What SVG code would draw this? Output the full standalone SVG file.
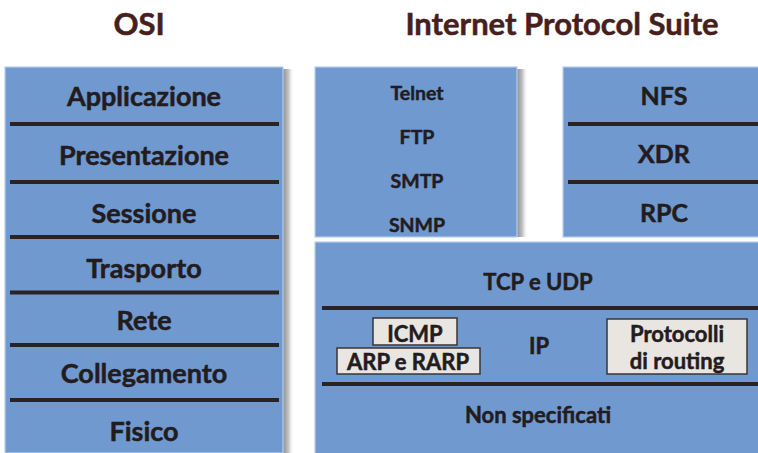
<svg xmlns="http://www.w3.org/2000/svg" width="758" height="453" viewBox="0 0 758 453">
  <defs>
    <linearGradient id="shade" x1="0" y1="0" x2="1" y2="0">
      <stop offset="0" stop-color="#8f8f8f"/>
      <stop offset="0.5" stop-color="#c4c4c4"/>
      <stop offset="1" stop-color="#ffffff" stop-opacity="0"/>
    </linearGradient>
    <style>
      .box { fill: #7099d0; stroke: #b6cdee; stroke-width: 1.2; }
      .sep { stroke: #2b2224; stroke-width: 4; }
      .tag { fill: #e9e6e1; stroke: #3a3436; stroke-width: 1.5; }
      .t { font-family: Lato, "Open Sans", sans-serif; font-weight: bold; fill: #231c1e; stroke: #231c1e; stroke-width: 0.5; text-anchor: middle; }
      .title { font-family: Lato, "Open Sans", sans-serif; font-weight: bold; fill: #45201c; stroke: #45201c; stroke-width: 0.5; text-anchor: middle; font-size: 31px; }
      .l { font-size: 27px; }
      .m { font-size: 22px; }
      .s { font-size: 19.5px; }
      .r { font-size: 25px; }
    </style>
  </defs>

  <rect width="758" height="453" fill="#ffffff"/>

  <!-- column headings -->
  <text class="title" x="139" y="35">OSI</text>
  <text class="title" x="562" y="35">Internet Protocol Suite</text>

  <!-- OSI stack -->
  <g id="osi-stack">
    <rect x="283" y="69" width="11" height="384" fill="url(#shade)"/>
    <rect class="box" x="5" y="67" width="278" height="386"/>
    <line class="sep" x1="10" y1="124" x2="279" y2="124"/>
    <line class="sep" x1="10" y1="182" x2="279" y2="182"/>
    <line class="sep" x1="10" y1="237" x2="279" y2="237"/>
    <line class="sep" x1="10" y1="292.5" x2="279" y2="292.5"/>
    <line class="sep" x1="10" y1="345" x2="279" y2="345"/>
    <line class="sep" x1="10" y1="400" x2="279" y2="400"/>
    <text class="t l" x="144" y="106">Applicazione</text>
    <text class="t l" x="144" y="165">Presentazione</text>
    <text class="t l" x="144" y="223">Sessione</text>
    <text class="t l" x="144" y="278">Trasporto</text>
    <text class="t l" x="144" y="330">Rete</text>
    <text class="t l" x="144" y="383">Collegamento</text>
    <text class="t l" x="144" y="441">Fisico</text>
  </g>

  <!-- application protocols -->
  <g id="apps">
    <rect x="517" y="69" width="11" height="168" fill="url(#shade)"/>
    <rect class="box" x="315" y="67" width="202" height="170"/>
    <text class="t s" x="417" y="100">Telnet</text>
    <text class="t s" x="417" y="144">FTP</text>
    <text class="t s" x="417" y="188">SMTP</text>
    <text class="t s" x="417" y="232">SNMP</text>
  </g>

  <!-- NFS / XDR / RPC -->
  <g id="nfs-stack">
    <rect class="box" x="563" y="67" width="196" height="170"/>
    <line class="sep" x1="568" y1="124" x2="758" y2="124"/>
    <line class="sep" x1="568" y1="182" x2="758" y2="182"/>
    <text class="t r" x="664" y="105">NFS</text>
    <text class="t r" x="664" y="163">XDR</text>
    <text class="t r" x="664" y="222">RPC</text>
  </g>

  <!-- transport, internet and lower layers -->
  <g id="lower-stack">
    <rect class="box" x="315" y="242" width="444" height="212"/>
    <line class="sep" x1="322" y1="308" x2="758" y2="308"/>
    <line class="sep" x1="322" y1="384" x2="758" y2="384"/>
    <text class="t m" x="538" y="290">TCP e UDP</text>
    <text class="t m" x="539" y="354">IP</text>
    <text class="t m" x="538" y="423">Non specificati</text>
  </g>

  <g id="icmp">
    <rect class="tag" x="373" y="318" width="84" height="27"/>
    <text class="t m" x="415" y="342">ICMP</text>
  </g>

  <g id="arp">
    <rect class="tag" x="337" y="348" width="143" height="26"/>
    <text class="t m" x="408" y="370">ARP e RARP</text>
  </g>

  <g id="routing">
    <rect class="tag" x="607" y="319" width="140" height="55"/>
    <text class="t m" x="677" y="342">Protocolli</text>
    <text class="t m" x="677" y="369">di routing</text>
  </g>
</svg>
